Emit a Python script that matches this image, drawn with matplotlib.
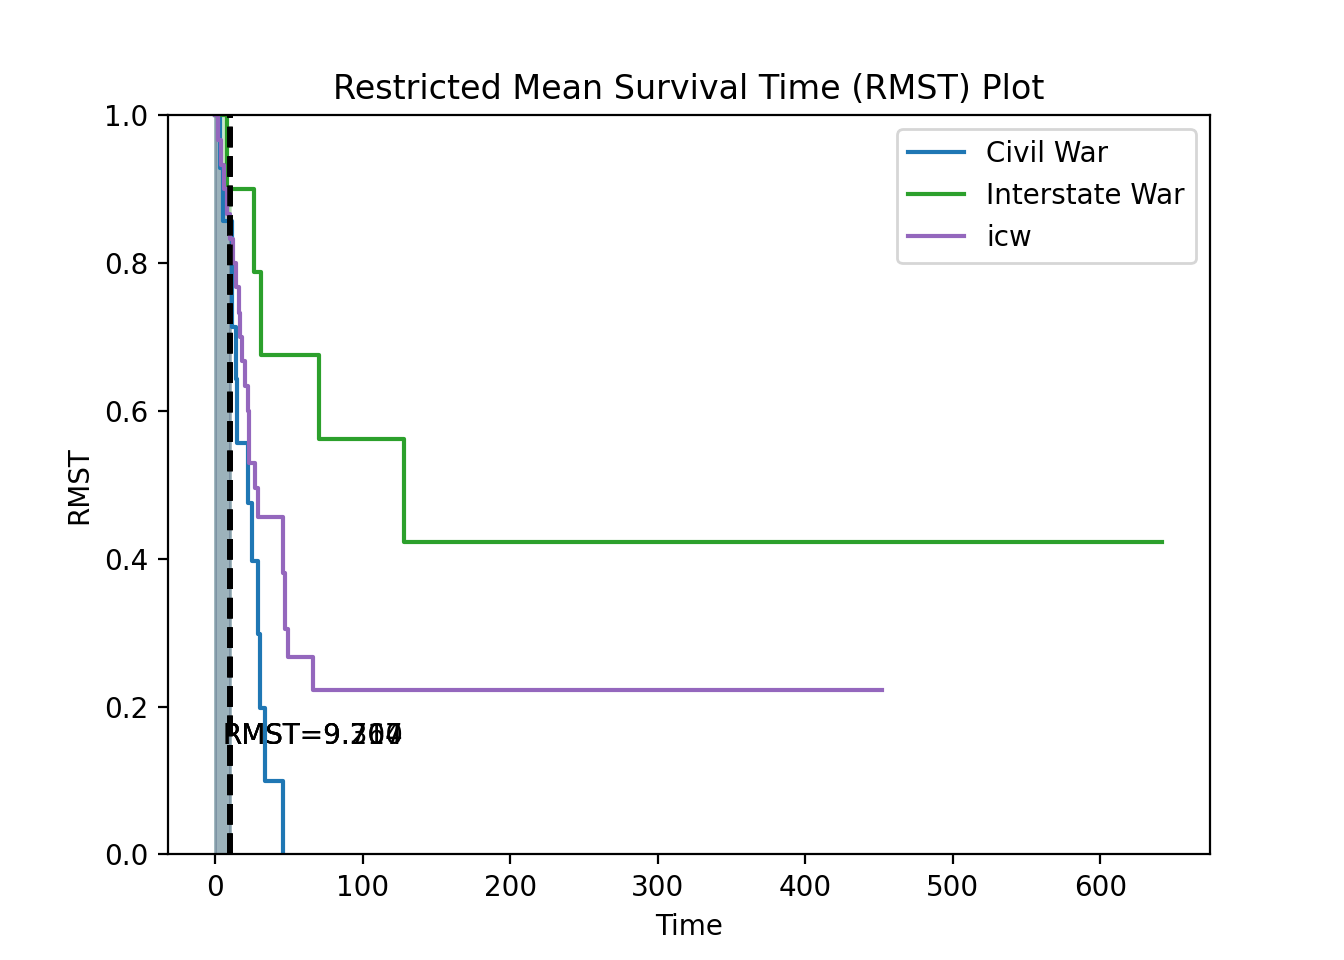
import matplotlib
matplotlib.use("Agg")
import matplotlib.pyplot as plt
import numpy as np

t_limit = 10

civil_t = [0, 3, 5, 11.5, 14, 15, 22, 25, 29, 30, 34, 46]
civil_s = [1.0, 0.929, 0.857, 0.714, 0.643, 0.557, 0.476, 0.397, 0.298, 0.198, 0.099, 0.0]

inter_t = [0, 8, 26, 31, 70, 128, 642]
inter_s = [1.0, 0.9, 0.788, 0.675, 0.562, 0.422, 0.422]

icw_t = [0, 2, 4, 6, 8, 10, 12, 14, 16, 17, 18, 20, 22, 23, 27, 29, 46, 47, 49, 66, 452]
icw_s = [1.0, 0.967, 0.933, 0.9, 0.867, 0.833, 0.8, 0.767, 0.733, 0.7, 0.667, 0.633,
         0.6, 0.53, 0.495, 0.457, 0.381, 0.305, 0.267, 0.222, 0.222]

rmst_values = [9.214, 9.767, 9.300]

series = [
    ("Civil War", civil_t, civil_s, "#1f77b4"),
    ("Interstate War", inter_t, inter_s, "#2ca02c"),
    ("icw", icw_t, icw_s, "#9467bd"),
]

fig, ax = plt.subplots(figsize=(6.72, 4.8), dpi=200)
for (label, t, s, color), rmst in zip(series, rmst_values):
    t = np.asarray(t, dtype=float)
    s = np.asarray(s, dtype=float)
    ax.step(t, s, where="post", color=color, label=label)
    mask = t <= t_limit
    ft = np.append(t[mask], t_limit)
    fs = np.append(s[mask], s[mask][-1])
    ax.fill_between(ft, 0, fs, step="post", color=color, alpha=0.25)
    ax.axvline(t_limit, color="k", linestyle="--", linewidth=2)
    ax.text(4.5, 0.15, "RMST=%.3f" % rmst)

ax.set_ylim(0, 1)
ax.set_title("Restricted Mean Survival Time (RMST) Plot")
ax.set_xlabel("Time")
ax.set_ylabel("RMST")
ax.legend(loc="upper right")
fig.savefig("out.png", dpi=200)
